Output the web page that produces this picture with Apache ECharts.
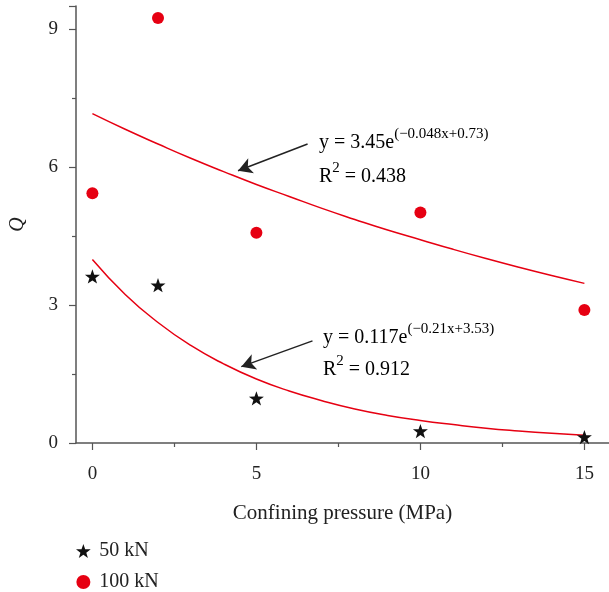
<!DOCTYPE html>
<html>
<head>
<meta charset="utf-8">
<script src="https://cdn.jsdelivr.net/npm/echarts@6/dist/echarts.min.js"></script>
<style>html,body{margin:0;padding:0;background:#fff}#c{width:609px;height:592px}</style>
</head>
<body>
<div id="c"></div>
<script>
// Data
const pressure = [0, 2, 5, 10, 15];
const q50 = [3.62, 3.43, 0.97, 0.26, 0.13];
const q100 = [5.43, 9.24, 4.57, 5.01, 2.89];
const fitX = [0, 1, 2, 3, 4, 5, 6, 7, 8, 9, 10, 11, 12, 13, 14, 15];
const fit100 = [7.16, 6.82, 6.50, 6.19, 5.90, 5.62, 5.36, 5.10, 4.86, 4.63, 4.42, 4.21, 4.01, 3.82, 3.64, 3.47];
const fit50 = [3.99, 3.23, 2.62, 2.12, 1.72, 1.39, 1.13, 0.92, 0.74, 0.60, 0.49, 0.40, 0.32, 0.26, 0.21, 0.17];
const xMajor = [0, 5, 10, 15];
const xMinor = [2.5, 7.5, 12.5];
const yMajor = [0, 3, 6, 9];
const arrow100 = [[6.56, 6.50], [4.44, 5.92]];
const arrow50 = [[6.71, 2.22], [4.54, 1.66]];

const FONT = '"Liberation Serif", "DejaVu Serif", serif';
const RED = '#e60012';
const AXIS = '#555';
const STAR = 'path://M0,-10 L2.35,-3.24 L9.51,-3.09 L3.8,1.24 L5.88,8.09 L0,4 L-5.88,8.09 L-3.8,1.24 L-9.51,-3.09 L-2.35,-3.24 Z';

const chart = echarts.init(document.getElementById('c'));
const xBase = {
  type: 'value', min: -0.5, max: 15.75, position: 'bottom',
  splitLine: { show: false }
};
const eqRich = {
  b: { fontFamily: FONT, fontSize: 20, color: '#222', lineHeight: 26, verticalAlign: 'bottom' },
  s: { fontFamily: FONT, fontSize: 15, color: '#222', lineHeight: 15, verticalAlign: 'top' }
};
chart.setOption({
  animation: false,
  backgroundColor: '#fff',
  grid: { left: 76, right: 0, top: 6, bottom: 149, containLabel: false, outerBoundsMode: 'none' },
  xAxis: [
    Object.assign({}, xBase, {
      name: 'Confining pressure (MPa)', nameLocation: 'middle', nameGap: 60,
      nameTextStyle: { fontFamily: FONT, fontSize: 21, color: '#222' },
      axisLine: { show: true, onZero: false, lineStyle: { color: AXIS, width: 1.5 } },
      axisTick: { show: true, customValues: xMajor, length: 7, lineStyle: { color: AXIS, width: 1.2 } },
      axisLabel: { customValues: xMajor, margin: 22, fontFamily: FONT, fontSize: 19, color: '#222' }
    }),
    Object.assign({}, xBase, {
      axisLine: { show: false },
      axisTick: { show: true, customValues: xMinor, length: 4, lineStyle: { color: AXIS, width: 1.2 } },
      axisLabel: { show: false }
    })
  ],
  yAxis: {
    type: 'value', min: 0, max: 9.5, interval: 3,
    name: 'Q', nameLocation: 'middle', nameGap: 48,
    nameTextStyle: { fontFamily: FONT, fontSize: 20, fontStyle: 'italic', color: '#222' },
    axisLine: { show: true, onZero: false, lineStyle: { color: AXIS, width: 1.5 } },
    axisTick: { show: true, length: 7, lineStyle: { color: AXIS, width: 1.2 } },
    minorTick: { show: true, splitNumber: 2, length: 4, lineStyle: { color: AXIS, width: 1.2 } },
    axisLabel: { customValues: yMajor, margin: 18, fontFamily: FONT, fontSize: 19, color: '#222' },
    splitLine: { show: false }
  },
  legend: {
    orient: 'vertical', left: 76, top: 541, padding: 0, itemWidth: 22, itemHeight: 14, itemGap: 11,
    data: ['50 kN', '100 kN'],
    textStyle: { fontFamily: FONT, fontSize: 20, color: '#222' }
  },
  series: [
    {
      name: 'fit100', type: 'line', smooth: true, showSymbol: false, symbol: 'none',
      data: fitX.map((x, i) => [x, fit100[i]]),
      lineStyle: { color: RED, width: 1.5 }, z: 2,
      markLine: {
        silent: true, symbol: ['none', 'arrow'], symbolSize: [12, 14],
        label: { show: false }, lineStyle: { color: '#222', width: 1.5, type: 'solid' },
        data: [[{ coord: arrow100[0] }, { coord: arrow100[1] }]]
      }
    },
    {
      name: 'fit50', type: 'line', smooth: true, showSymbol: false, symbol: 'none',
      data: fitX.map((x, i) => [x, fit50[i]]),
      lineStyle: { color: RED, width: 1.5 }, z: 2,
      markLine: {
        silent: true, symbol: ['none', 'arrow'], symbolSize: [12, 14],
        label: { show: false }, lineStyle: { color: '#222', width: 1.5, type: 'solid' },
        data: [[{ coord: arrow50[0] }, { coord: arrow50[1] }]]
      }
    },
    {
      name: '50 kN', type: 'scatter', symbol: STAR, symbolSize: 15, symbolKeepAspect: true,
      itemStyle: { color: '#111', opacity: 1 }, z: 3,
      data: pressure.map((x, i) => [x, q50[i]])
    },
    {
      name: '100 kN', type: 'scatter', symbol: 'circle', symbolSize: 12,
      itemStyle: { color: RED, opacity: 1 }, z: 3,
      data: pressure.map((x, i) => [x, q100[i]])
    }
  ],
  graphic: [
    { type: 'text', left: 319, top: 127, style: { text: '{b|y = 3.45e}{s|(−0.048x+0.73)}', rich: eqRich } },
    { type: 'text', left: 319, top: 161, style: { text: '{b|R}{s|2}{b| = 0.438}', rich: eqRich } },
    { type: 'text', left: 323, top: 322, style: { text: '{b|y = 0.117e}{s|(−0.21x+3.53)}', rich: eqRich } },
    { type: 'text', left: 323, top: 354, style: { text: '{b|R}{s|2}{b| = 0.912}', rich: eqRich } }
  ]
});
</script>
</body>
</html>
